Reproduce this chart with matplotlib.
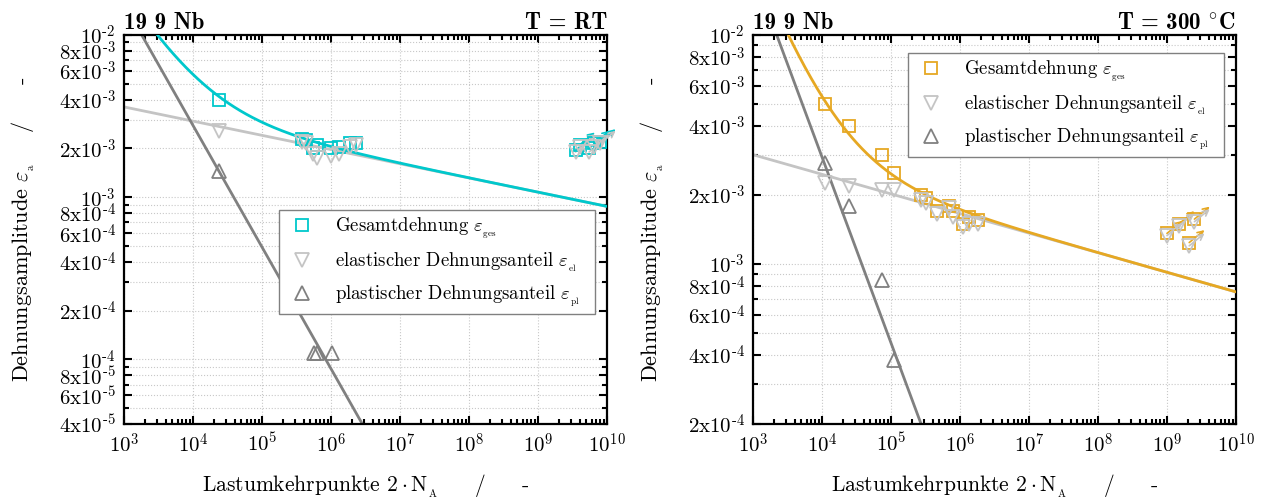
import numpy as np
import matplotlib
matplotlib.use('Agg')
import matplotlib.pyplot as plt
from matplotlib.ticker import LogLocator, FixedLocator, FuncFormatter, NullFormatter

plt.rcParams['font.family'] = ['cmr10', 'DejaVu Serif']
plt.rcParams['mathtext.fontset'] = 'cm'
plt.rcParams['axes.formatter.use_mathtext'] = True
plt.rcParams['axes.unicode_minus'] = False

# ---- T = RT ----
rt_N = [2.4e4, 3.8e5, 4.4e5, 5.5e5, 6.2e5, 1.0e6, 1.3e6, 1.9e6, 2.3e6]
rt_ges = [4.0e-3, 2.3e-3, 2.25e-3, 2.0e-3, 2.1e-3, 2.0e-3, 2.05e-3, 2.15e-3, 2.15e-3]
rt_el = [2.55e-3, 2.2e-3, 2.15e-3, 1.85e-3, 1.75e-3, 1.8e-3, 1.85e-3, 2.05e-3, 2.1e-3]
rt_N_pl = [2.4e4, 5.6e5, 6.2e5, 1.05e6]
rt_pl = [1.45e-3, 1.1e-4, 1.1e-4, 1.1e-4]
# run-outs (Durchlaeufer)
rt_ro_N = [3.5e9, 4.0e9, 5.5e9, 6.5e9, 8.0e9]
rt_ro_ges = [1.95e-3, 2.1e-3, 2.0e-3, 2.15e-3, 2.2e-3]
rt_ro_el = [1.9e-3, 2.05e-3, 1.9e-3, 2.05e-3, 2.15e-3]
# fit: eps_el = sf_E * N^b, eps_pl = ef * N^c
rt_fit = dict(sf_E=6.6e-3, b=-0.0876, ef=2.77, c=-0.75)

# ---- T = 300 °C ----
hot_N = [1.1e4, 2.5e4, 7.4e4, 1.1e5, 2.7e5, 3.2e5, 4.6e5, 7.0e5, 8.0e5, 1.1e6, 1.35e6, 1.8e6]
hot_ges = [5.0e-3, 4.0e-3, 3.0e-3, 2.5e-3, 2.0e-3, 1.95e-3, 1.7e-3, 1.8e-3, 1.7e-3, 1.5e-3, 1.6e-3, 1.55e-3]
hot_el = [2.25e-3, 2.2e-3, 2.1e-3, 2.1e-3, 1.9e-3, 1.85e-3, 1.65e-3, 1.75e-3, 1.6e-3, 1.45e-3, 1.5e-3, 1.5e-3]
hot_N_pl = [1.1e4, 2.5e4, 7.4e4, 1.1e5]
hot_pl = [2.75e-3, 1.8e-3, 8.5e-4, 3.8e-4]
hot_ro_N = [1.0e9, 1.5e9, 2.5e9, 2.1e9]
hot_ro_ges = [1.36e-3, 1.5e-3, 1.57e-3, 1.24e-3]
hot_ro_el = [1.33e-3, 1.47e-3, 1.53e-3, 1.2e-3]
hot_fit = dict(sf_E=5.42e-3, b=-0.0856, ef=5.19, c=-0.812)

c_rt = '#00c8cc'
c_hot = '#e6a823'
c_el = '#c4c4c4'
c_pl = '#808080'


def ylab(v, pos):
    e = int(np.floor(np.log10(v) + 1e-9))
    m = int(round(v / 10.0 ** e))
    if m == 1:
        return r'$10^{\text{-}%d}$' % -e
    return r'$%d\mathrm{x}10^{\text{-}%d}$' % (m, -e)


def panel(ax, N, ges, el, N_pl, pl, ro_N, ro_ges, ro_el, fit, col, ymin, title_r, leg_top):
    Nf = np.logspace(3, 10, 400)
    e_el = fit['sf_E'] * Nf ** fit['b']
    e_pl = fit['ef'] * Nf ** fit['c']
    ax.plot(Nf, e_el, color=c_el, lw=2, zorder=2)
    ax.plot(Nf, e_pl, color=c_pl, lw=2, zorder=2)
    ax.plot(Nf, e_el + e_pl, color=col, lw=2, zorder=3)

    ax.plot(N, ges, 's', ms=8, mfc='none', mec=col, mew=1.3, zorder=4,
            label=r'Gesamtdehnung $\varepsilon_{_{\mathrm{ges}}}$')
    ax.plot(N, el, 'v', ms=10, mfc='none', mec=c_el, mew=1.3, zorder=4,
            label=r'elastischer Dehnungsanteil $\varepsilon_{_{\mathrm{el}}}$')
    ax.plot(N_pl, pl, '^', ms=10, mfc='none', mec=c_pl, mew=1.3, zorder=4,
            label=r'plastischer Dehnungsanteil $\varepsilon_{_{\mathrm{pl}}}$')

    # run-outs with arrows
    ax.plot(ro_N, ro_ges, 's', ms=8, mfc='none', mec=col, mew=1.3, zorder=4)
    ax.plot(ro_N, ro_el, 'v', ms=10, mfc='none', mec=c_el, mew=1.3, zorder=4)
    for x, y in zip(ro_N, ro_ges):
        ax.annotate('', xy=(x, y), xytext=(11, 9), textcoords='offset points',
                    arrowprops=dict(arrowstyle='<-', color=col, lw=1.2, shrinkA=0, shrinkB=0))
    for x, y in zip(ro_N, ro_el):
        ax.annotate('', xy=(x, y), xytext=(11, 9), textcoords='offset points',
                    arrowprops=dict(arrowstyle='<-', color=c_el, lw=1.2, shrinkA=0, shrinkB=0))

    ax.set_xscale('log')
    ax.set_yscale('log')
    ax.set_xlim(1e3, 1e10)
    ax.set_ylim(ymin, 1e-2)

    ax.xaxis.set_major_locator(LogLocator(base=10, numticks=20))
    ax.xaxis.set_minor_locator(LogLocator(base=10, subs=np.arange(2, 10), numticks=20))
    ax.xaxis.set_minor_formatter(NullFormatter())
    ax.xaxis.set_major_formatter(FuncFormatter(lambda v, p: r'$10^{%d}$' % int(round(np.log10(v)))))

    yt = [m * 10.0 ** e for e in range(-5, -1) for m in (1, 2, 4, 6, 8)]
    yt = [v for v in yt if ymin * 0.999 <= v <= 1.001e-2]
    ax.yaxis.set_major_locator(FixedLocator(yt))
    ax.yaxis.set_major_formatter(FuncFormatter(ylab))
    ax.yaxis.set_minor_locator(LogLocator(base=10, subs=np.arange(2, 10), numticks=20))
    ax.yaxis.set_minor_formatter(NullFormatter())

    ax.tick_params(which='both', direction='in', top=True, right=True, width=1.5, labelsize=15)
    ax.tick_params(which='major', length=6, pad=6)
    ax.tick_params(which='minor', length=3.5)
    for s in ax.spines.values():
        s.set_linewidth(1.6)

    ax.grid(True, which='major', axis='x', ls=':', color='#c8c8c8', lw=0.8)
    ax.grid(True, which='both', axis='y', ls=':', color='#c8c8c8', lw=0.8)
    ax.set_axisbelow(True)

    ax.set_xlabel(r'Lastumkehrpunkte $2\cdot\mathrm{N}_{_\mathrm{A}}$     /     -', fontsize=15.5)
    ax.set_ylabel(r'Dehnungsamplitude $\varepsilon_{_\mathrm{a}}$    /     -', fontsize=16)
    ax.xaxis.set_label_coords(0.5, -0.125)
    ax.yaxis.set_label_coords(-0.18, 0.5)

    ax.set_title('19 9 Nb', loc='left', fontsize=16.5, fontweight='bold',
                 family=['cmb10', 'DejaVu Serif'], pad=4)
    ax.set_title(title_r, loc='right', fontsize=16.5, fontweight='bold',
                 family=['cmb10', 'DejaVu Serif'], pad=4)

    leg = ax.legend(loc='upper left', bbox_to_anchor=(0.321, leg_top - 0.1, 0.654, 0.1),
                    mode='expand', borderaxespad=0,
                    fontsize=13.5, frameon=True, fancybox=False, framealpha=1,
                    edgecolor='#808080', labelspacing=0.5, handletextpad=0.8,
                    handlelength=1.9, borderpad=0.3, numpoints=1)
    leg.get_frame().set_linewidth(1.0)


fig = plt.figure(figsize=(12.63, 5.01), dpi=100)
ax1 = fig.add_axes([0.0982, 0.1537, 0.3824, 0.7764])
ax2 = fig.add_axes([0.5962, 0.1537, 0.3824, 0.7764])

panel(ax1, rt_N, rt_ges, rt_el, rt_N_pl, rt_pl, rt_ro_N, rt_ro_ges, rt_ro_el,
      rt_fit, c_rt, 4e-5, 'T = RT', 0.55)
panel(ax2, hot_N, hot_ges, hot_el, hot_N_pl, hot_pl, hot_ro_N, hot_ro_ges, hot_ro_el,
      hot_fit, c_hot, 2e-4, r'T = 300 $^{\circ}$C', 0.954)

fig.savefig('out.png', dpi=100)
